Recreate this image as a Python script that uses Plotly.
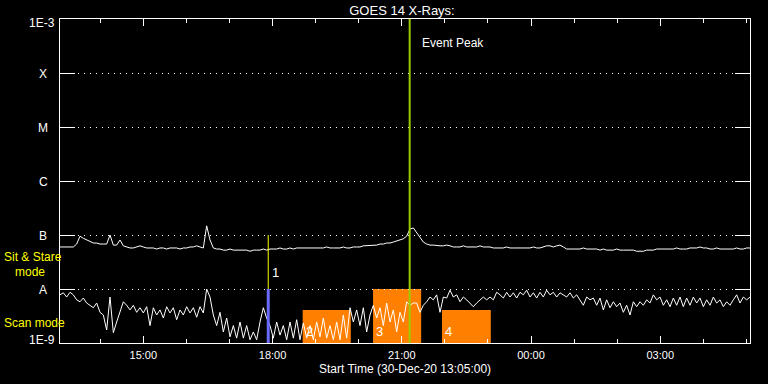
import math
import pandas as pd
import plotly.graph_objects as go

# ---------------- data ----------------
start_time = "2020-12-30 13:04"
end_time = "2020-12-31 05:05"

# GOES 14 long channel (1-8 A) flux, in units of 1e-9 W/m^2, regular cadence
long_nw = [
    60, 60, 60, 60, 60, 68, 95, 87, 81, 74, 71, 71, 68, 68, 68, 100, 65, 65, 81, 63,
    60, 57.5, 57.5, 60, 63, 60, 57.5,
    57.5, 57.5, 55, 57.5, 57.5, 55, 57.5, 57.5, 57.5, 55, 57.5, 57.5, 60, 60,
    63, 60, 57.5, 148, 81, 57.5,
    55, 55, 52.5, 52.5, 55, 52.5, 52.5, 52.5,
    52.5, 52.5, 50, 52.5, 52.5, 52.5, 55, 52.5,
    55, 55, 55, 57.5, 55, 55, 57.5, 55, 57.5, 57.5, 57.5, 57.5, 57.5,
    57.5, 57.5, 57.5, 57.5, 60, 57.5, 57.5, 57.5, 57.5, 60, 57.5, 57.5,
    60, 60, 60, 63, 63, 63, 65, 65, 68, 68, 71, 71,
    74, 78, 81, 85, 95, 129, 135, 110, 91, 74, 68,
    65, 65, 63, 63, 63, 65, 63,
    60, 60, 60, 63, 60, 60, 60, 60, 63, 60, 60, 60,
    57.5, 57.5, 57.5, 57.5, 60, 57.5, 57.5, 57.5, 57.5, 57.5, 57.5, 57.5, 60, 57.5, 57.5,
    60, 63, 63, 60, 63, 65, 60,
    55, 55, 55, 55, 55, 57.5, 55, 55,
    55, 55, 52.5, 55, 52.5, 52.5, 52.5, 55, 52.5, 52.5, 52.5,
    52.5, 52.5, 50, 50, 50, 52.5, 52.5, 52.5, 55, 55,
    55, 55, 55, 55, 57.5, 55, 55, 55, 57.5, 57.5,
    57.5, 60, 57.5, 57.5, 55, 55, 57.5, 55, 55, 55,
    55, 55, 57.5, 55, 55, 57.5, 57.5,
]

# GOES 14 short channel (0.5-4 A) flux, in units of 1e-9 W/m^2, regular cadence
short_nw = [
    7.8, 8.5, 7.1, 8.7, 7.8, 6.3, 5.8, 6.8, 5.5, 5.0, 4.5, 5.5, 3.7, 3.3, 1.74, 7.1, 1.55, 2.45, 3.7, 5.8,
    5.0, 4.1, 5.0, 3.7, 4.5, 3.6, 4.7, 2.1, 4.5, 3.3, 4.1, 2.9, 4.7, 3.6, 4.5, 2.7, 4.1, 3.3, 4.7, 3.6,
    4.5, 3.0, 4.7, 3.6, 10.0, 7.1, 3.3, 2.1, 3.7, 1.6, 2.9, 1.3, 2.1, 1.23, 2.45,
    1.23, 2.1, 1.15, 1.6, 1.15, 2.45, 4.5, 2.9, 2.1, 1.23,
    2.45, 1.4, 2.1, 1.15, 2.45, 1.23, 2.7, 1.15, 2.35, 1.23,
    2.1, 1.15, 2.45, 1.3, 2.9, 1.23, 2.1, 1.15, 2.45, 1.15,
    3.3, 1.23, 4.5, 2.45, 4.1, 2.1, 4.5, 1.6, 3.3, 5.0,
    2.9, 4.5, 2.1, 5.5, 2.45, 4.1, 1.6, 3.7, 2.45, 5.8,
    5.0, 5.5,
    5.5, 3.7, 5.0, 5.8, 7.1, 6.3, 7.8, 3.7, 7.1, 6.8,
    9.5, 7.1, 7.8, 5.8, 7.1, 6.3, 5.5, 4.7, 5.5, 6.3,
    7.1, 6.3, 7.1, 6.3, 8.7, 7.8, 6.8, 8.7, 7.1, 8.5,
    6.8, 8.7, 7.8, 9.5, 7.1, 8.5, 6.8, 8.7, 7.1, 9.5,
    7.8, 8.7, 7.1, 8.5, 7.8, 7.1, 8.5, 6.8, 7.8, 6.3,
    5.0, 7.1, 6.3,
    6.8, 5.0, 6.8, 4.1, 6.3, 4.5, 5.8, 4.7, 5.5, 3.7,
    5.0, 3.3, 5.8, 4.7, 5.8, 5.0, 6.3, 5.5, 7.8, 6.3,
    7.1, 5.0, 6.3, 4.7, 6.8, 5.0, 7.1, 4.7, 6.8, 5.0,
    7.1, 5.5, 6.8, 4.7, 6.3, 5.0, 7.1, 5.5, 6.3, 4.7,
    5.8, 5.0, 6.3, 7.8, 5.5, 7.1, 6.3, 7.1,
]

class_levels = [1e-9, 1e-8, 1e-7, 1e-6, 1e-5, 1e-4, 1e-3]
class_labels = ["1E-9", "A", "B", "C", "M", "X", "1E-3"]

event_peak = "2020-12-30 21:11"
sit_stare_times = ["2020-12-30 17:54"]
sit_stare_labels = ["1"]
scan_starts = ["2020-12-30 18:42", "2020-12-30 20:20", "2020-12-30 21:56"]
scan_ends = ["2020-12-30 19:49", "2020-12-30 21:27", "2020-12-30 23:04"]
scan_tops = [4.1e-9, 1.0e-8, 4.1e-9]
scan_labels = ["2", "3", "4"]

# ---------------- figure ----------------
FONT = "Liberation Sans"
W, H = 768, 384
ML, MR, MT, MB = 60, 18, 19, 41
PW, PH = W - ML - MR, H - MT - MB
Y_LOG_RANGE = [math.log10(class_levels[0]), math.log10(class_levels[-1])]


def px_x(px):
    return (px - ML) / PW


def px_y(py):
    return (H - MB - py) / PH


def flux_to_paper(v):
    # position of a flux value on the log y axis, as a fraction of the plot height
    return (math.log10(v) - Y_LOG_RANGE[0]) / (Y_LOG_RANGE[1] - Y_LOG_RANGE[0])


t_long = pd.date_range(start_time, end_time, periods=len(long_nw))
t_short = pd.date_range(start_time, end_time, periods=len(short_nw))

fig = go.Figure()
fig.add_trace(go.Scatter(x=t_short, y=[v * 1e-9 for v in short_nw], mode="lines",
                         line=dict(color="white", width=1), hoverinfo="skip"))
fig.add_trace(go.Scatter(x=t_long, y=[v * 1e-9 for v in long_nw], mode="lines",
                         line=dict(color="white", width=1), hoverinfo="skip"))

shapes = []
for s, e, top in zip(scan_starts, scan_ends, scan_tops):
    shapes.append(dict(type="rect", xref="x", yref="paper", x0=s, x1=e,
                       y0=flux_to_paper(class_levels[0]), y1=flux_to_paper(top),
                       fillcolor="#ff8000", line=dict(width=0), layer="below"))
for t in sit_stare_times:
    shapes.append(dict(type="line", xref="x", yref="paper", x0=t, x1=t,
                       y0=flux_to_paper(class_levels[0]), y1=flux_to_paper(class_levels[1]),
                       line=dict(color="#6a6aff", width=3), layer="above"))
    shapes.append(dict(type="line", xref="x", yref="paper", x0=t, x1=t,
                       y0=flux_to_paper(class_levels[1]), y1=flux_to_paper(class_levels[2]),
                       line=dict(color="#ffff00", width=1), layer="above"))
shapes.append(dict(type="line", xref="x", yref="paper", x0=event_peak, x1=event_peak, y0=0, y1=1,
                   line=dict(color="#99cc00", width=2), layer="above"))

ann = []
# y labels
for lvl, lab in zip(class_levels, class_labels):
    if lab.startswith("1E"):
        ann.append(dict(x=px_x(57), xref="paper", y=math.log10(lvl), yref="y", text=lab,
                        xanchor="right", yanchor="middle", showarrow=False,
                        yshift=(-4 if lab == "1E-3" else 3),
                        font=dict(family=FONT, size=12, color="white")))
    else:
        ann.append(dict(x=px_x(43), xref="paper", y=math.log10(lvl), yref="y", text=lab,
                        xanchor="center", yanchor="middle", showarrow=False, yshift=-1,
                        font=dict(family=FONT, size=12, color="white")))
# mode labels
for txt, x, y in [("Sit & Stare", 2, 257), ("mode", 13, 272), ("Scan mode", 2, 323)]:
    ann.append(dict(x=px_x(x), xref="paper", y=px_y(y), yref="paper", text=txt,
                    xanchor="left", yanchor="middle", showarrow=False,
                    font=dict(family=FONT, size=12, color="#ffff00")))
# event peak
ann.append(dict(x=event_peak, xref="x", y=px_y(43), yref="paper", text="Event Peak",
                xanchor="left", yanchor="middle", showarrow=False, xshift=10,
                font=dict(family=FONT, size=12, color="white")))
# sit & stare labels
for t, lab in zip(sit_stare_times, sit_stare_labels):
    ann.append(dict(x=t, xref="x", y=px_y(272), yref="paper", text=lab,
                    xanchor="left", yanchor="middle", showarrow=False, xshift=2,
                    font=dict(family=FONT, size=13, color="white")))
# scan labels
for s, lab in zip(scan_starts, scan_labels):
    ann.append(dict(x=s, xref="x", y=px_y(331), yref="paper", text=lab,
                    xanchor="left", yanchor="middle", showarrow=False, xshift=1,
                    font=dict(family=FONT, size=13, color="white")))
# x-axis title
ann.append(dict(x=0.5, xref="paper", y=px_y(369), yref="paper",
                text="Start Time (30-Dec-20 13:05:00)", xanchor="center", yanchor="middle",
                showarrow=False, font=dict(family=FONT, size=12, color="white")))

fig.update_layout(
    width=W, height=H,
    margin=dict(l=ML, r=MR, t=MT, b=MB, pad=0),
    paper_bgcolor="black", plot_bgcolor="black",
    showlegend=False,
    title=dict(text="GOES 14 X-Rays:", x=402 / W, xanchor="center", xref="container",
               y=1 - 10 / H, yanchor="middle", yref="container",
               font=dict(family=FONT, size=13, color="white")),
    shapes=shapes,
    annotations=ann,
    xaxis=dict(
        type="date", range=[start_time, end_time],
        showline=True, linecolor="white", linewidth=1, mirror="allticks",
        ticks="inside", ticklen=7, tickwidth=1, tickcolor="white",
        tick0="2020-12-30 00:00", dtick=3 * 3600 * 1000, tickformat="%H:%M",
        tickfont=dict(family=FONT, size=11, color="white"), ticklabelstandoff=2,
        showgrid=False, zeroline=False,
        minor=dict(dtick=3600 * 1000, ticks="inside", ticklen=4, tickcolor="white",
                   tickwidth=1, showgrid=False),
    ),
    yaxis=dict(
        type="log", range=Y_LOG_RANGE,
        showline=True, linecolor="white", linewidth=1, mirror="allticks",
        tickvals=class_levels, showticklabels=False,
        ticks="inside", ticklen=15, tickwidth=1, tickcolor="white",
        showgrid=True, gridcolor="white", gridwidth=1, griddash="1px,5px",
        zeroline=False,
    ),
)

fig.write_html("out.html")
